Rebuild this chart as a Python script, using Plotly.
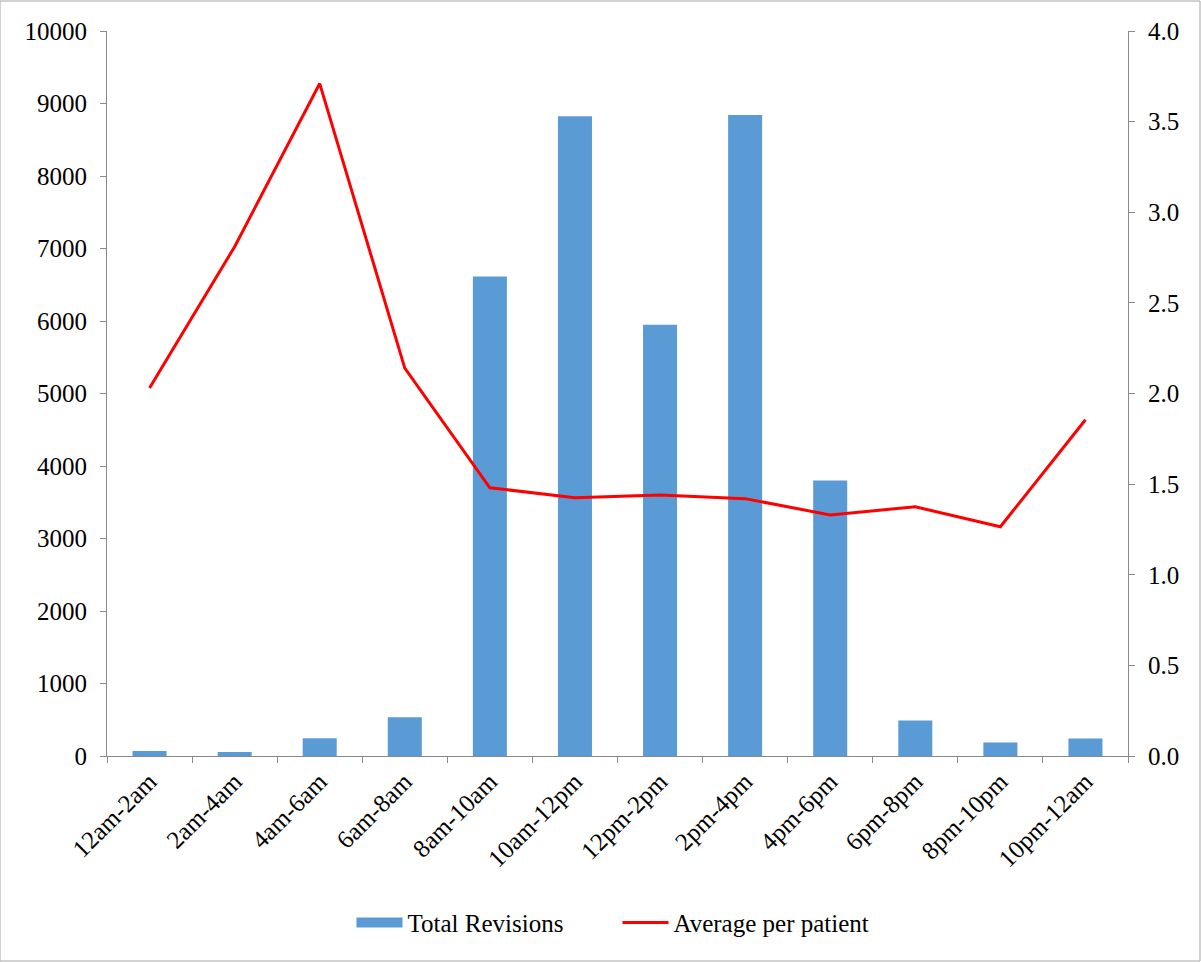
import plotly.graph_objects as go

categories = ["12am-2am", "2am-4am", "4am-6am", "6am-8am", "8am-10am", "10am-12pm",
              "12pm-2pm", "2pm-4pm", "4pm-6pm", "6pm-8pm", "8pm-10pm", "10pm-12am"]
total_revisions = [70, 55, 245, 535, 6615, 8825, 5950, 8840, 3800, 490, 185, 240]
average_per_patient = [2.03, 2.81, 3.71, 2.14, 1.48, 1.425, 1.44, 1.42, 1.33, 1.375, 1.265, 1.855]

font = dict(family="Liberation Serif, Times New Roman, serif", size=25, color="black")
bar_color = "#5B9BD5"

fig = go.Figure()
fig.add_trace(go.Bar(x=categories, y=total_revisions, name="Total Revisions",
                     marker=dict(color=bar_color, line=dict(width=0)), yaxis="y",
                     showlegend=False))
# legend entry for the bars drawn as a wide rectangle-like thick line
fig.add_trace(go.Scatter(x=[None], y=[None], name="Total Revisions", mode="lines",
                         line=dict(color=bar_color, width=14), yaxis="y"))
fig.add_trace(go.Scatter(x=categories, y=average_per_patient, name="Average per patient",
                         mode="lines", line=dict(color="#FF0000", width=3), yaxis="y2"))

fig.update_layout(
    width=1201, height=962,
    margin=dict(l=107, r=73, t=31, b=206),
    paper_bgcolor="white", plot_bgcolor="white",
    font=font,
    bargap=0.6,
    showlegend=True,
    legend=dict(orientation="h", x=0.5, xanchor="center", y=-0.23, yanchor="middle",
                font=font, traceorder="normal", itemwidth=46, entrywidth=205),
    xaxis=dict(type="category", tickangle=-45, showline=True, linecolor="#898989",
               linewidth=1, ticks="outside", ticklen=6, tickcolor="#898989",
               tickson="boundaries", showgrid=False, tickfont=font),
    yaxis=dict(range=[0, 10000], dtick=1000, tickformat="d", showline=True,
               linecolor="#898989", linewidth=1, ticks="outside", ticklen=6,
               tickcolor="#898989", showgrid=False, zeroline=False, tickfont=font,
               ticklabelstandoff=8),
    yaxis2=dict(range=[0, 4.0], dtick=0.5, tickformat=".1f", overlaying="y", side="right",
                showline=True, linecolor="#898989", linewidth=1, ticks="outside",
                ticklen=6, tickcolor="#898989", showgrid=False, zeroline=False,
                tickfont=font, ticklabelstandoff=8),
    shapes=[dict(type="rect", xref="paper", yref="paper", x0=-107/1021, x1=1+72/1021,
                 y0=-205/725, y1=1+30/725, line=dict(color="#A6A6A6", width=1))],
)

fig.write_html("out.html")
